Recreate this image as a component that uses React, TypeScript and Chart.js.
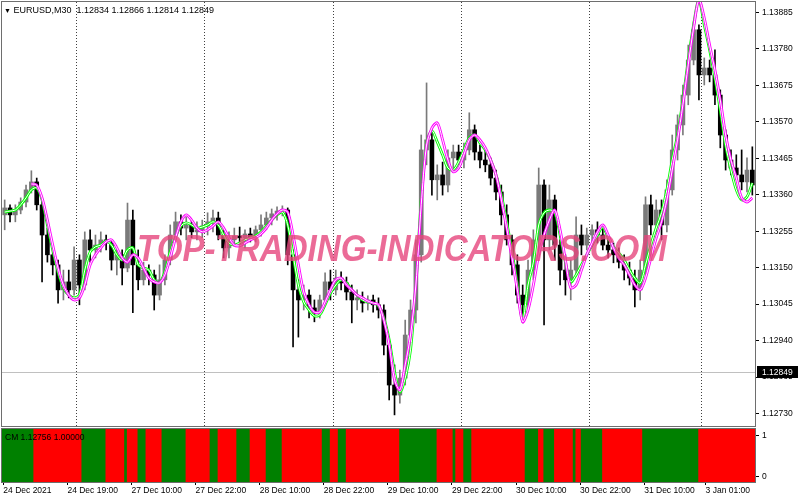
import React, { useEffect, useRef } from 'react';
import { Chart, registerables } from 'chart.js';
Chart.register(...registerables);

// ---- data ----
const candleOpen = [
  1.13302, 1.13322, 1.13302, 1.13316, 1.13339, 1.13374, 1.13397, 1.13331, 1.13244, 1.13187,
  1.13158, 1.13086, 1.13109, 1.13086, 1.13172, 1.13100, 1.13230, 1.13201, 1.13215, 1.13230,
  1.13221, 1.13172, 1.13187, 1.13149, 1.13287, 1.13158, 1.13115, 1.13143, 1.13129, 1.13071,
  1.13115, 1.13172, 1.13244, 1.13282, 1.13264, 1.13273, 1.13253, 1.13259, 1.13270, 1.13282,
  1.13293, 1.13244, 1.13207, 1.13230, 1.13241, 1.13236, 1.13247, 1.13238, 1.13259, 1.13273,
  1.13293, 1.13305, 1.13313, 1.13316, 1.13187, 1.13086, 1.13057, 1.13071, 1.13034, 1.13022,
  1.13057, 1.13109, 1.13086, 1.13120, 1.13106, 1.13080, 1.13057, 1.13063, 1.13048, 1.13057,
  1.13043, 1.13028, 1.12927, 1.12812, 1.12783, 1.12832, 1.12956, 1.13028, 1.13187, 1.13489,
  1.13518, 1.13403, 1.13417, 1.13388, 1.13466, 1.13483, 1.13460, 1.13489, 1.13547, 1.13483,
  1.13460, 1.13446, 1.13408, 1.13368, 1.13302, 1.13230, 1.13158, 1.13071, 1.13043, 1.13143,
  1.13230, 1.13388, 1.13230, 1.13345, 1.13215, 1.13143, 1.13115, 1.13143, 1.13244, 1.13215,
  1.13244, 1.13259, 1.13244, 1.13215, 1.13201, 1.13187, 1.13166, 1.13143, 1.13120, 1.13086,
  1.13143, 1.13331, 1.13273, 1.13316, 1.13273, 1.13374, 1.13489, 1.13561, 1.13647, 1.13748,
  1.13835, 1.13705, 1.13725, 1.13705, 1.13647, 1.13532, 1.13460, 1.13437, 1.13417, 1.13397,
  1.13431,
];
const candleHigh = [
  1.13345, 1.13331, 1.13331, 1.13351, 1.13388, 1.13429, 1.13408, 1.13345, 1.13264, 1.13215,
  1.13172, 1.13143, 1.13143, 1.13210, 1.13187, 1.13253, 1.13259, 1.13244, 1.13253, 1.13244,
  1.13230, 1.13207, 1.13201, 1.13336, 1.13316, 1.13201, 1.13166, 1.13158, 1.13143, 1.13158,
  1.13187, 1.13273, 1.13310, 1.13302, 1.13296, 1.13287, 1.13282, 1.13287, 1.13308, 1.13316,
  1.13310, 1.13264, 1.13253, 1.13264, 1.13267, 1.13259, 1.13264, 1.13270, 1.13302, 1.13310,
  1.13319, 1.13325, 1.13328, 1.13322, 1.13201, 1.13115, 1.13100, 1.13086, 1.13057, 1.13071,
  1.13135, 1.13143, 1.13143, 1.13138, 1.13123, 1.13100, 1.13086, 1.13080, 1.13069, 1.13071,
  1.13063, 1.13043, 1.12948, 1.12870, 1.12855, 1.12999, 1.13057, 1.13230, 1.13532, 1.13682,
  1.13547, 1.13446, 1.13454, 1.13489, 1.13503, 1.13503, 1.13509, 1.13596, 1.13561, 1.13503,
  1.13489, 1.13466, 1.13431, 1.13388, 1.13331, 1.13244, 1.13187, 1.13100, 1.13172, 1.13259,
  1.13437, 1.13403, 1.13388, 1.13359, 1.13230, 1.13187, 1.13172, 1.13296, 1.13273, 1.13264,
  1.13273, 1.13282, 1.13270, 1.13236, 1.13221, 1.13207, 1.13187, 1.13166, 1.13143, 1.13172,
  1.13354, 1.13359, 1.13345, 1.13345, 1.13403, 1.13532, 1.13590, 1.13676, 1.13791, 1.13858,
  1.13849, 1.13754, 1.13748, 1.13777, 1.13662, 1.13547, 1.13489, 1.13475, 1.13489, 1.13466,
  1.13498,
];
const candleLow = [
  1.13259, 1.13282, 1.13282, 1.13305, 1.13325, 1.13365, 1.13316, 1.13109, 1.13166, 1.13129,
  1.13048, 1.13057, 1.13063, 1.13071, 1.13043, 1.13086, 1.13166, 1.13178, 1.13195, 1.13201,
  1.13143, 1.13129, 1.13100, 1.13138, 1.13020, 1.13086, 1.13100, 1.13100, 1.13028, 1.13057,
  1.13100, 1.13158, 1.13230, 1.13244, 1.13230, 1.13236, 1.13230, 1.13236, 1.13244, 1.13253,
  1.13230, 1.13178, 1.13178, 1.13213, 1.13215, 1.13207, 1.13224, 1.13224, 1.13241, 1.13259,
  1.13273, 1.13287, 1.13299, 1.13158, 1.12922, 1.12950, 1.13028, 1.13005, 1.12994, 1.13005,
  1.13043, 1.13057, 1.13071, 1.13086, 1.13057, 1.12991, 1.13028, 1.13022, 1.13028, 1.13022,
  1.13005, 1.12899, 1.12769, 1.12726, 1.12760, 1.12812, 1.12927, 1.12991, 1.13166, 1.13446,
  1.13359, 1.13345, 1.13359, 1.13368, 1.13437, 1.13446, 1.13437, 1.13475, 1.13460, 1.13437,
  1.13426, 1.13388, 1.13345, 1.13273, 1.13215, 1.13129, 1.13048, 1.12991, 1.13028, 1.13115,
  1.13187, 1.12985, 1.13201, 1.13172, 1.13100, 1.13071, 1.13057, 1.13129, 1.13187, 1.13201,
  1.13215, 1.13221, 1.13201, 1.13178, 1.13164, 1.13149, 1.13115, 1.13100, 1.13037, 1.13057,
  1.13129, 1.13244, 1.13253, 1.13230, 1.13253, 1.13359, 1.13460, 1.13532, 1.13619, 1.13734,
  1.13633, 1.13676, 1.13685, 1.13619, 1.13495, 1.13431, 1.13417, 1.13403, 1.13374, 1.13368,
  1.13359,
];
const candleClose = [
  1.13322, 1.13302, 1.13316, 1.13339, 1.13374, 1.13397, 1.13331, 1.13244, 1.13187, 1.13158,
  1.13086, 1.13109, 1.13086, 1.13172, 1.13100, 1.13230, 1.13201, 1.13215, 1.13230, 1.13221,
  1.13172, 1.13187, 1.13149, 1.13287, 1.13158, 1.13115, 1.13143, 1.13129, 1.13071, 1.13115,
  1.13172, 1.13244, 1.13282, 1.13264, 1.13273, 1.13253, 1.13259, 1.13270, 1.13282, 1.13293,
  1.13244, 1.13207, 1.13230, 1.13241, 1.13236, 1.13247, 1.13238, 1.13259, 1.13273, 1.13293,
  1.13305, 1.13313, 1.13316, 1.13187, 1.13086, 1.13057, 1.13071, 1.13034, 1.13022, 1.13057,
  1.13109, 1.13086, 1.13120, 1.13106, 1.13080, 1.13057, 1.13063, 1.13048, 1.13057, 1.13043,
  1.13028, 1.12927, 1.12812, 1.12783, 1.12832, 1.12956, 1.13028, 1.13187, 1.13489, 1.13518,
  1.13403, 1.13417, 1.13388, 1.13466, 1.13483, 1.13460, 1.13489, 1.13547, 1.13483, 1.13460,
  1.13446, 1.13408, 1.13368, 1.13302, 1.13230, 1.13158, 1.13071, 1.13043, 1.13143, 1.13230,
  1.13388, 1.13230, 1.13345, 1.13215, 1.13143, 1.13115, 1.13143, 1.13244, 1.13215, 1.13244,
  1.13259, 1.13244, 1.13215, 1.13201, 1.13187, 1.13166, 1.13143, 1.13120, 1.13086, 1.13143,
  1.13331, 1.13273, 1.13316, 1.13273, 1.13374, 1.13489, 1.13561, 1.13647, 1.13748, 1.13835,
  1.13705, 1.13725, 1.13705, 1.13647, 1.13532, 1.13460, 1.13437, 1.13417, 1.13397, 1.13431,
  1.13388,
];
const greenLine = [
  1.13310, 1.13313, 1.13316, 1.13331, 1.13351, 1.13374, 1.13380, 1.13345, 1.13273, 1.13201,
  1.13138, 1.13092, 1.13071, 1.13063, 1.13071, 1.13143, 1.13195, 1.13210, 1.13215, 1.13227,
  1.13215, 1.13187, 1.13172, 1.13201, 1.13207, 1.13158, 1.13149, 1.13143, 1.13115, 1.13106,
  1.13138, 1.13195, 1.13238, 1.13270, 1.13279, 1.13273, 1.13264, 1.13267, 1.13273, 1.13282,
  1.13273, 1.13244, 1.13221, 1.13215, 1.13221, 1.13230, 1.13236, 1.13241, 1.13253, 1.13270,
  1.13287, 1.13302, 1.13310, 1.13273, 1.13187, 1.13100, 1.13051, 1.13028, 1.13011, 1.13014,
  1.13043, 1.13077, 1.13100, 1.13115, 1.13106, 1.13086, 1.13071, 1.13057, 1.13051, 1.13048,
  1.13040, 1.13005, 1.12942, 1.12850, 1.12792, 1.12832, 1.12913, 1.13100, 1.13345, 1.13509,
  1.13544, 1.13512, 1.13475, 1.13437, 1.13431, 1.13454, 1.13489, 1.13524, 1.13532, 1.13509,
  1.13489, 1.13460, 1.13417, 1.13359, 1.13282, 1.13195, 1.13100, 1.12999, 1.13100, 1.13166,
  1.13273, 1.13308, 1.13316, 1.13310, 1.13244, 1.13166, 1.13109, 1.13129, 1.13158, 1.13187,
  1.13215, 1.13244, 1.13267, 1.13236, 1.13210, 1.13192, 1.13172, 1.13143, 1.13120, 1.13106,
  1.13158, 1.13215, 1.13264, 1.13308, 1.13374, 1.13460, 1.13532, 1.13633, 1.13748, 1.13849,
  1.13921, 1.13849, 1.13777, 1.13696, 1.13604, 1.13503, 1.13431, 1.13374, 1.13345, 1.13354,
  1.13394,
];
const magentaLine = [
  null, null, null, null, null, 1.13391, 1.13388, 1.13351, 1.13287, 1.13215,
  1.13149, 1.13100, 1.13071, 1.13057, 1.13063, 1.13100, 1.13158, 1.13187, 1.13207, 1.13224,
  1.13230, 1.13207, 1.13178, 1.13166, 1.13187, 1.13178, 1.13149, 1.13120, 1.13109, 1.13106,
  1.13129, 1.13178, 1.13236, 1.13282, 1.13302, 1.13287, 1.13264, 1.13253, 1.13259, 1.13270,
  1.13282, 1.13264, 1.13236, 1.13215, 1.13213, 1.13221, 1.13230, 1.13236, 1.13247, 1.13264,
  1.13287, 1.13305, 1.13316, 1.13310, 1.13244, 1.13158, 1.13080, 1.13043, 1.13022, 1.13022,
  1.13051, 1.13086, 1.13115, 1.13120, 1.13100, 1.13086, 1.13071, 1.13063, 1.13054, 1.13048,
  1.13043, 1.12999, 1.12927, 1.12827, 1.12798, 1.12870, 1.12956, 1.13100, 1.13331, 1.13503,
  1.13552, 1.13567, 1.13518, 1.13460, 1.13426, 1.13437, 1.13475, 1.13518, 1.13532, 1.13518,
  1.13495, 1.13460, 1.13417, 1.13345, 1.13264, 1.13178, 1.13086, 1.12994, 1.13028, 1.13100,
  1.13187, 1.13244, 1.13287, 1.13316, 1.13259, 1.13172, 1.13092, 1.13100, 1.13143, 1.13187,
  1.13221, 1.13253, 1.13273, 1.13244, 1.13207, 1.13178, 1.13158, 1.13129, 1.13100, 1.13086,
  1.13120, 1.13178, 1.13236, 1.13282, 1.13345, 1.13431, 1.13518, 1.13619, 1.13734, 1.13840,
  1.13921, 1.13869, 1.13791, 1.13719, 1.13633, 1.13532, 1.13460, 1.13408, 1.13351, 1.13339,
  1.13351,
];
const priceTicks = [1.1273, 1.12835, 1.1294, 1.13045, 1.1315, 1.13255, 1.1336, 1.13465, 1.1357, 1.13675, 1.1378, 1.13885];
const priceMin = 1.12694;
const priceMax = 1.13915;
const currentPrice = 1.12849;
const dayStartCandles = [14, 38, 62, 86, 110, 131];

// indicator window (M30 bars): alternating runs, 1 = green, 0 = red
const signalRunStates = [1, 0, 1, 0, 1, 0, 1, 0, 1, 0, 1, 0, 1, 0, 1, 0, 1, 0, 1, 0, 1, 0, 1, 0, 1, 0, 1, 0, 1, 0, 1, 0, 1, 0, 1, 0];
const signalRunLengths = [12, 18, 9, 7, 1, 4, 3, 6, 9, 9, 3, 7, 5, 6, 6, 15, 3, 3, 3, 20, 14, 6, 1, 3, 3, 20, 5, 2, 4, 7, 1, 2, 8, 15, 21, 21];
const signalTicks = [0, 1];
const timeLabels = ['24 Dec 2021', '24 Dec 19:00', '27 Dec 10:00', '27 Dec 22:00', '28 Dec 10:00', '28 Dec 22:00', '29 Dec 10:00', '29 Dec 22:00', '30 Dec 10:00', '30 Dec 22:00', '31 Dec 10:00', '3 Jan 01:00'];
const timeLabelBars = [0, 24, 48, 72, 96, 120, 144, 168, 192, 216, 240, 263];

const FONT = { family: 'Liberation Sans', size: 8.5 };
const UP = '#7a7a7a';
const DOWN = '#000000';

const framePlugin = {
  id: 'frame',
  afterDraw(chart: any) {
    const { ctx, chartArea: a } = chart;
    ctx.save();
    ctx.strokeStyle = '#6e6e6e';
    ctx.lineWidth = 1;
    ctx.strokeRect(Math.round(a.left) - 0.5, Math.round(a.top) - 0.5, Math.round(a.right - a.left) + 1, Math.round(a.bottom - a.top) + 1);
    ctx.restore();
  },
};

const priceLinePlugin = {
  id: 'priceLine',
  beforeDatasetsDraw(chart: any) {
    const { ctx, chartArea: a } = chart;
    const y = Math.round(chart.scales.y.getPixelForValue(currentPrice)) + 0.5;
    ctx.save();
    ctx.strokeStyle = '#c0c0c0';
    ctx.lineWidth = 1;
    ctx.beginPath();
    ctx.moveTo(a.left, y);
    ctx.lineTo(a.right, y);
    ctx.stroke();
    ctx.restore();
  },
  afterDraw(chart: any) {
    const { ctx, chartArea: a } = chart;
    const y = Math.round(chart.scales.y.getPixelForValue(currentPrice));
    ctx.save();
    ctx.fillStyle = '#000';
    ctx.fillRect(a.right + 2, y - 6, 41, 12);
    ctx.fillStyle = '#fff';
    ctx.font = '8.5px "Liberation Sans"';
    ctx.textBaseline = 'middle';
    ctx.textAlign = 'left';
    ctx.fillText(currentPrice.toFixed(5), a.right + 7, y + 0.5);
    ctx.restore();
  },
};

const noPadV = (s: any, w: number) => {
  s.width = w;
  s.paddingTop = 0;
  s.paddingBottom = 0;
};
const noPadH = (s: any, h: number) => {
  s.height = h;
  s.paddingLeft = 0;
  s.paddingRight = 0;
};

export default function App() {
  const mainRef = useRef<HTMLCanvasElement>(null);
  const subRef = useRef<HTMLCanvasElement>(null);

  useEffect(() => {
    const cats = candleClose.map((_, i) => i);
    const candleColor = (ctx: any) => (candleClose[ctx.dataIndex] >= candleOpen[ctx.dataIndex] ? UP : DOWN);
    const lineDs = (data: any[], color: string, width: number, order: number) =>
      ({ type: 'line', data, borderColor: color, borderWidth: width, pointRadius: 0, tension: 0.3, order } as any);

    const main = new Chart(mainRef.current as HTMLCanvasElement, {
      type: 'bar',
      data: {
        labels: cats,
        datasets: [
          lineDs(magentaLine, '#ffffff', 1, 1),
          lineDs(magentaLine, '#ff00ff', 2.8, 2),
          lineDs(greenLine, '#ffffff', 1, 3),
          lineDs(greenLine, '#00ff00', 2.8, 4),
          {
            type: 'bar',
            data: candleOpen.map((o, i) => [o, candleClose[i]]),
            backgroundColor: candleColor,
            borderWidth: 0,
            barThickness: 4,
            minBarLength: 1,
            grouped: false,
            order: 5,
          } as any,
          {
            type: 'bar',
            data: candleLow.map((l, i) => [l, candleHigh[i]]),
            backgroundColor: candleColor,
            borderWidth: 0,
            barThickness: 1,
            grouped: false,
            order: 6,
          } as any,
        ],
      },
      options: {
        animation: false,
        responsive: false,
        maintainAspectRatio: false,
        layout: { padding: { left: 2, top: 2, right: 0, bottom: 2 } },
        plugins: { legend: { display: false }, tooltip: { enabled: false } },
        scales: {
          x: {
            type: 'category',
            offset: true,
            grid: {
              offset: true,
              drawTicks: false,
              lineWidth: 1,
              color: (c: any) => (dayStartCandles.includes(c.index) ? '#404040' : 'rgba(0,0,0,0)'),
            },
            border: { display: false, dash: [1, 2] },
            ticks: { display: false, autoSkip: false },
            afterFit: (s: any) => noPadH(s, 0),
          },
          y: {
            type: 'linear',
            position: 'right',
            min: priceMin,
            max: priceMax,
            afterBuildTicks: (s: any) => {
              s.ticks = priceTicks.map((v) => ({ value: v }));
            },
            ticks: {
              font: FONT,
              color: '#000',
              padding: 3,
              callback: (v: any) => Number(v).toFixed(5),
            },
            grid: { drawOnChartArea: false, drawTicks: true, tickLength: 4, color: '#000' },
            border: { display: true, color: '#6e6e6e' },
            afterFit: (s: any) => noPadV(s, 45),
          },
        },
      } as any,
      plugins: [priceLinePlugin, framePlugin],
    });

    const states: number[] = [];
    signalRunStates.forEach((st, k) => {
      for (let j = 0; j < signalRunLengths[k]; j++) states.push(st);
    });
    const bars = states.map((_, i) => i);

    const sub = new Chart(subRef.current as HTMLCanvasElement, {
      type: 'bar',
      data: {
        labels: bars,
        datasets: [
          {
            data: states.map(() => [-1, 2]),
            backgroundColor: states.map((s) => (s === 1 ? '#008000' : '#ff0000')),
            borderWidth: 0,
            barThickness: 3.3,
          } as any,
        ],
      },
      options: {
        animation: false,
        responsive: false,
        maintainAspectRatio: false,
        layout: { padding: { left: 2, top: 1, right: 0, bottom: 4 } },
        plugins: { legend: { display: false }, tooltip: { enabled: false } },
        scales: {
          x: {
            type: 'category',
            offset: true,
            grid: {
              offset: false,
              drawOnChartArea: false,
              drawTicks: true,
              tickLength: 3,
              color: (c: any) => (timeLabelBars.includes(c.index) ? '#000' : 'rgba(0,0,0,0)'),
            },
            border: { display: false },
            ticks: {
              autoSkip: false,
              maxRotation: 0,
              minRotation: 0,
              align: 'start',
              padding: 1,
              font: FONT,
              color: '#000',
              callback: (_v: any, i: number) => {
                const k = timeLabelBars.indexOf(i);
                return k >= 0 ? timeLabels[k] : '';
              },
            },
            afterFit: (s: any) => noPadH(s, 14),
          },
          y: {
            type: 'linear',
            position: 'right',
            min: -0.129,
            max: 1.163,
            afterBuildTicks: (s: any) => {
              s.ticks = signalTicks.map((v) => ({ value: v }));
            },
            ticks: { font: FONT, color: '#000', padding: 3, callback: (v: any) => String(v) },
            grid: { drawOnChartArea: false, drawTicks: true, tickLength: 4, color: '#000' },
            border: { display: true, color: '#6e6e6e' },
            afterFit: (s: any) => noPadV(s, 45),
          },
        },
      } as any,
      plugins: [framePlugin],
    });

    return () => {
      main.destroy();
      sub.destroy();
    };
  }, []);

  return (
    <div style={{ position: 'fixed', left: 0, top: 0, width: 800, height: 500, background: '#fff', overflow: 'hidden' }}>
      <canvas ref={mainRef} width={800} height={428} style={{ position: 'absolute', left: 0, top: 0, display: 'block' }} />
      <canvas ref={subRef} width={800} height={72} style={{ position: 'absolute', left: 0, top: 428, display: 'block' }} />
      <div
        style={{
          position: 'absolute',
          left: 4,
          top: 4,
          fontFamily: '"Liberation Sans", sans-serif',
          fontSize: 9,
          lineHeight: '12px',
          color: '#000',
          whiteSpace: 'pre',
        }}
      >
        <span style={{ fontSize: 7 }}>▼</span> EURUSD,M30  1.12834 1.12866 1.12814 1.12849
      </div>
      <div
        style={{
          position: 'absolute',
          left: 402,
          top: 249,
          transform: 'translate(-50%, -50%) scaleX(0.92)',
          fontFamily: '"Liberation Sans", sans-serif',
          fontWeight: 'bold',
          fontStyle: 'italic',
          fontSize: 36,
          lineHeight: '36px',
          color: 'rgba(230, 70, 125, 0.8)',
          whiteSpace: 'nowrap',
          pointerEvents: 'none',
        }}
      >
        TOP-TRADING-INDICATORS.COM
      </div>
      <div
        style={{
          position: 'absolute',
          left: 5,
          top: 431,
          fontFamily: '"Liberation Sans", sans-serif',
          fontSize: 8.5,
          lineHeight: '12px',
          color: '#000',
          whiteSpace: 'pre',
        }}
      >
        CM 1.12756 1.00000
      </div>
    </div>
  );
}
